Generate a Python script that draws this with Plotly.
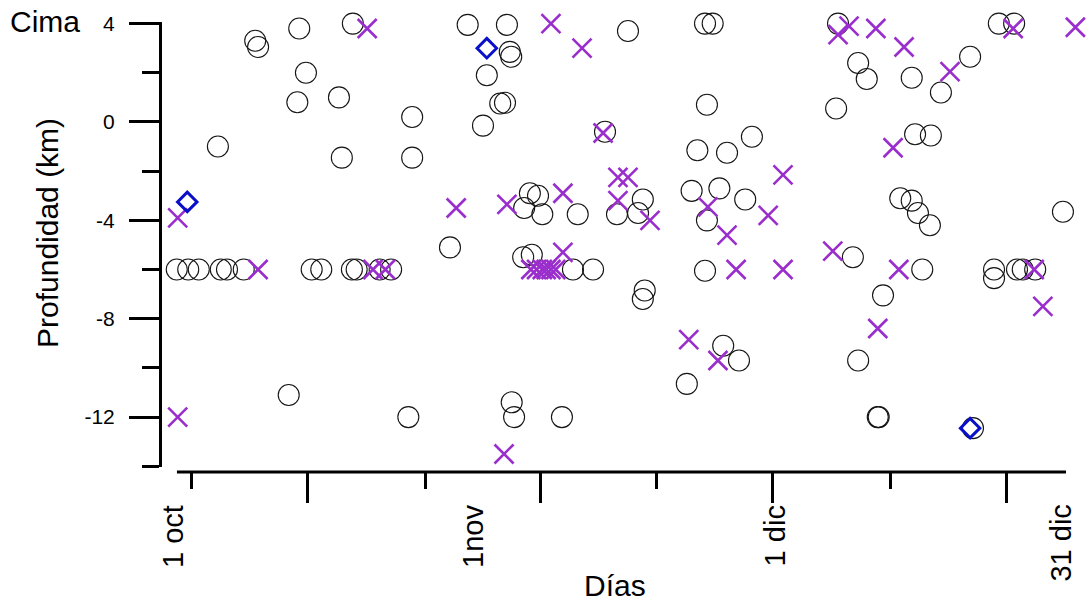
import plotly.graph_objects as go

# Days: 1 oct = 1, 1 nov = 32, 1 dic = 62, 31 dic = 92
circle_days = [-0.3, 0.9, 2.0, 4.3, 4.95, 6.7, 13.8, 14.8, 18.0, 18.5, 20.9, 22.1,
               41.1, 43.2, 54.9, 77.6, 85.1, 85.1, 87.5, 88.1, 89.4,
               7.9, 8.2, 12.5, 13.2, 12.3, 16.65, 18.1, 4.0, 16.95, 11.4, 23.9, 24.3, 24.3,
               28.25, 30.1, 34.2, 46.85, 54.9, 55.7, 34.5, 34.65, 32.1, 33.5, 34.0, 31.7,
               44.45, 55.1, 54.1, 57.2, 59.8, 36.6, 37.45, 36.0, 37.9, 41.6, 48.4, 45.7,
               47.9, 53.5, 56.4, 59.1, 55.1, 35.9, 36.8, 48.6, 48.4, 56.8, 58.45, 53.0,
               34.7, 34.95, 39.95, 68.8, 70.9, 71.8, 76.5, 82.6, 79.55, 68.6, 76.85, 78.5,
               75.3, 76.5, 77.15, 78.4, 92.3, 70.35, 73.5, 70.9, 72.95, 73.05, 82.9,
               85.6, 87.2]
circle_depth = [-6.0, -6.0, -6.0, -6.0, -6.0, -6.0, -6.0, -6.0, -6.0, -6.0, -6.0, -6.0,
                -6.0, -6.0, -6.05, -6.0, -6.0, -6.35, -6.0, -6.0, -6.0,
                3.3, 3.05, 3.8, 2.0, 0.8, 1.0, 4.0, -1.0, -1.45, -11.1, -12.0, 0.2, -1.45,
                -5.1, 3.95, 3.95, 3.7, 4.0, 4.0, 2.85, 2.65, 1.9, 0.75, 0.78, -0.15,
                -0.4, 0.7, -1.15, -1.25, -0.6, -2.9, -3.0, -3.5, -3.75, -3.75, -3.15, -3.75,
                -3.7, -2.8, -2.7, -3.15, -4.0, -5.5, -5.4, -6.85, -7.2, -9.1, -9.7, -10.65,
                -11.4, -12.0, -12.0, 4.0, 2.4, 1.75, 1.8, 2.65, 1.2, 0.55, -0.5, -0.55,
                -3.1, -3.2, -3.7, -4.2, -3.65, -5.5, -7.05, -9.7, -12.0, -12.0, -12.45,
                4.0, 4.0]

cross_days = [19.6, -0.2, -0.2, 8.2, 20.2, 21.5, 38.8, 42.05, 44.25, 45.8, 46.85,
              28.9, 34.2, 40.05, 45.8, 49.15, 55.2, 57.2, 40.05,
              36.7, 37.3, 37.9, 38.3, 38.8, 39.3, 58.15, 63.05, 53.2, 56.25, 33.9,
              68.8, 69.95, 72.75, 75.7, 80.5, 74.55, 63.05, 61.5, 68.25, 75.15, 89.3,
              90.2, 72.95, 87.1, 93.6]
cross_depth = [3.8, -3.9, -12.0, -6.0, -6.0, -6.0, 4.0, 3.0, -0.45, -2.25, -2.25,
               -3.5, -3.35, -2.9, -3.2, -4.0, -3.45, -4.6, -5.3,
               -6.0, -6.0, -6.0, -6.0, -6.0, -6.0, -6.0, -6.0, -8.85, -9.7, -13.5,
               3.55, 3.9, 3.8, 3.05, 2.05, -1.05, -2.15, -3.8, -5.25, -6.0, -6.0,
               -7.5, -8.4, 3.8, 3.85]

diamond_days = [0.8, 32.1, 82.6]
diamond_depth = [-3.25, 3.0, -12.45]

major_ticks = [13.41, 37.76, 62.0, 86.45]
minor_ticks = [1.29, 25.64, 49.88, 74.23]
tick_labels = ["1 oct", "1nov", "1 dic", "31 dic"]
label_days = [-0.75, 30.6, 62.2, 92.0]
y_ticks = [4, 0, -4, -8, -12]
y_ticktext = ["4", "0", "-4", "-8", "-12"]

FONT = "Liberation Sans, Arial, sans-serif"
W, H = 1086, 604
ml, mr, mt, mb = 160, 0, 22, 132
pw, ph = W - ml - mr, H - mt - mb
x_range = [-2.05, 94.71]
axis_line_days = [-0.28, 92.62]  # visible extent of the drawn x-axis line


def day_to_paper(d):
    return (d - x_range[0]) / (x_range[1] - x_range[0])


fig = go.Figure()
fig.add_trace(go.Scatter(x=circle_days, y=circle_depth, mode="markers",
                         marker=dict(symbol="circle-open", size=21, color="#151515",
                                     line=dict(width=1.1)),
                         cliponaxis=False, showlegend=False, hoverinfo="skip"))
fig.add_trace(go.Scatter(x=cross_days, y=cross_depth, mode="markers",
                         marker=dict(symbol="x-thin", size=19, color="#9A2ECC",
                                     line=dict(width=2.6, color="#9A2ECC")),
                         cliponaxis=False, showlegend=False, hoverinfo="skip"))
fig.add_trace(go.Scatter(x=diamond_days, y=diamond_depth, mode="markers",
                         marker=dict(symbol="diamond-open", size=15, color="#0A10C8",
                                     line=dict(width=3)),
                         cliponaxis=False, showlegend=False, hoverinfo="skip"))

fig.update_layout(
    width=W, height=H,
    margin=dict(l=ml, r=mr, t=mt, b=mb, autoexpand=False),
    paper_bgcolor="white", plot_bgcolor="white",
    font=dict(family=FONT, color="black"),
    xaxis=dict(domain=[0, 1], range=x_range, anchor="free", position=0,
               automargin=False,
               showgrid=False, zeroline=False, showline=False,
               tickmode="array", tickvals=major_ticks, ticks="outside",
               ticklen=30, tickwidth=3, tickcolor="black", showticklabels=False,
               minor=dict(tickmode="array", tickvals=minor_ticks, ticks="outside",
                          ticklen=16, tickwidth=3, tickcolor="black")),
    yaxis=dict(domain=[5 / ph, 1], range=[-14.03, 4.065], anchor="free", position=0,
               automargin=False,
               showgrid=False, zeroline=False, showline=True, linecolor="black",
               linewidth=3, tickmode="array", tickvals=y_ticks, ticktext=y_ticktext,
               ticks="outside",
               ticklen=30, tickwidth=3, tickcolor="black",
               tickfont=dict(size=21, family=FONT), ticklabelstandoff=10,
               minor=dict(dtick=2, tick0=0, ticks="outside", ticklen=17, tickwidth=3,
                          tickcolor="black")),
)

fig.add_shape(type="line", xref="paper", yref="paper",
              x0=day_to_paper(axis_line_days[0]), x1=day_to_paper(axis_line_days[1]),
              y0=0, y1=0, line=dict(color="black", width=3))

annotations = []
for lab, d in zip(tick_labels, label_days):
    annotations.append(dict(x=day_to_paper(d), y=(472 - 503) / ph, xref="paper", yref="paper",
                            text=lab, textangle=-90, showarrow=False,
                            xanchor="center", yanchor="top",
                            font=dict(size=29, family=FONT, color="black")))
annotations.append(dict(x=(615 - ml) / pw, y=(472 - 585) / ph, xref="paper", yref="paper",
                        text="Días", showarrow=False, xanchor="center", yanchor="middle",
                        font=dict(size=30, family=FONT, color="black")))
annotations.append(dict(x=(47 - ml) / pw, y=(472 - 233) / ph, xref="paper", yref="paper",
                        text="Profundidad (km)", textangle=-90, showarrow=False,
                        xanchor="center", yanchor="middle",
                        font=dict(size=30, family=FONT, color="black")))
annotations.append(dict(x=(8 - ml) / pw, y=(472 - 21) / ph, xref="paper", yref="paper",
                        text="Cima", showarrow=False, xanchor="left", yanchor="middle",
                        font=dict(size=30, family=FONT, color="black")))
fig.update_layout(annotations=annotations)

fig.write_html("out.html", config={"displayModeBar": False},
               post_script="document.body.style.margin='0';document.body.style.padding='0';")
